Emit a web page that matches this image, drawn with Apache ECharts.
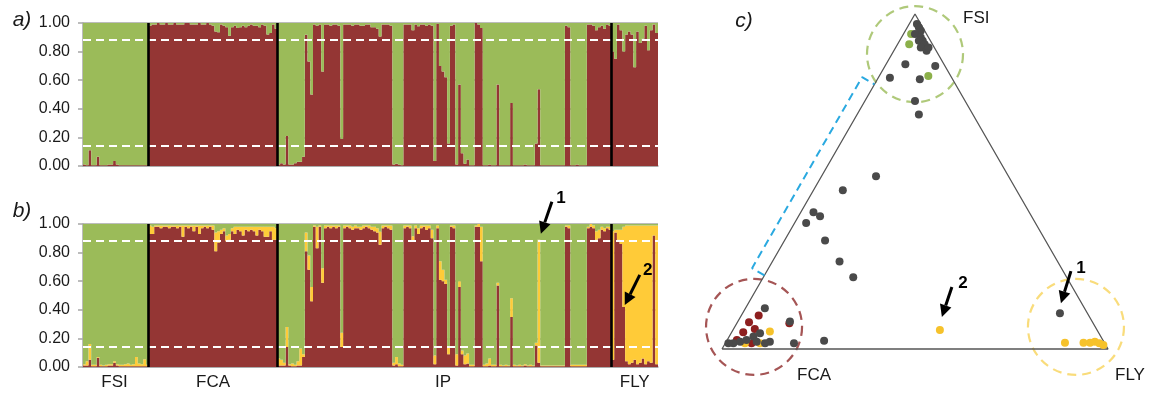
<!DOCTYPE html>
<html><head><meta charset="utf-8">
<script src="https://cdn.jsdelivr.net/npm/echarts@6/dist/echarts.min.js"></script>
<style>html,body{margin:0;padding:0;background:#fff}#c{width:1155px;height:396px}</style>
</head><body><div id="c"></div>
<script>
// ---------------- DATA ----------------
const groups = ['FSI', 'FCA', 'IP', 'FLY'];
const groupSizes = [24, 47, 122, 17];
const yTicks = [0, 0.2, 0.4, 0.6, 0.8, 1.0];
const thresholds = [0.88, 0.14];

// panel a (K=2): proportion of the red (FCA) cluster; green is the rest
const fsiA = [0.01,0.005,0.11,0.005,0.005,0.065,0.005,0.005,0.005,0.01,0.01,0.035,0.01,0.005,0.005,0.005,0.005,0.005,0.005,0.005,0.005,0.005,0.005,0.005];
const fcaA = [0.98,0.99,0.99,1.0,0.99,0.99,1.0,0.99,0.99,1.0,0.99,0.99,0.99,1.0,1.0,0.99,0.99,0.99,1.0,0.99,0.99,1.0,0.99,
              0.98,0.94,0.935,0.99,0.98,0.97,0.91,0.97,0.98,0.965,0.97,0.98,0.97,0.98,0.99,0.98,0.98,0.97,0.99,0.98,0.92,0.93,0.99,0.96];
const ipA = [0.01,0.02,0.01,0.21,0.01,0.01,0.02,0.03,0.03,0.064,
             0.917,0.73,0.50,0.99,0.98,0.99,0.66,0.99,0.99,0.98,
             0.99,0.99,0.98,0.19,0.99,0.99,0.99,0.98,0.99,0.99,
             0.98,0.98,0.99,0.99,0.97,0.97,0.96,0.906,0.99,0.99,
             0.99,0.98,0.01,0.015,0.01,0.005,0.99,0.99,0.99,0.95,
             0.99,0.977,0.99,0.99,0.98,0.99,0.98,0.035,0.995,0.70,
             0.66,0.62,0.157,0.98,0.99,0.01,0.57,0.09,0.016,0.045,
             0.005,0.005,1.0,0.99,0.965,0.005,0.005,0.01,0.005,0.005,
             0.57,0.005,0.005,0.005,0.005,0.44,0.005,0.005,0.005,0.005,
             0.01,0.005,0.005,0.005,0.157,0.536,0.005,0.005,0.005,0.005,
             0.005,0.005,0.005,0.005,0.005,0.98,0.97,0.005,0.005,0.01,
             0.005,0.005,0.005,0.99,0.99,0.98,0.95,0.97,0.98,0.96,
             0.99,0.98];
const flyA = [0.80,0.75,0.99,0.95,0.80,0.92,0.94,0.92,0.69,0.94,0.86,0.89,0.98,0.81,0.95,0.99,0.93];

// panel b (K=3): red (FCA) and yellow (FLY) proportions; green is the rest
const fsiBRed = [0.01,0.01,0.05,0.005,0.005,0.065,0.005,0.005,0.005,0.01,0.01,0.03,0.01,0.005,0.005,0.005,0.005,0.005,0.005,0.005,0.005,0.005,0.005,0.005];
const fsiBYel = [0.01,0.03,0.11,0.01,0.01,0.005,0.01,0.005,0.01,0.01,0.01,0.01,0.01,0.01,0.01,0.015,0.02,0.01,0.015,0.065,0.02,0.015,0.05,0.01];
const fcaBRed = [0.93,0.93,0.98,0.98,0.97,0.98,0.98,0.97,0.98,0.98,0.97,0.98,0.91,0.98,0.97,0.98,0.95,0.98,0.93,0.97,0.98,0.97,0.98,0.96,
                 0.81,0.87,0.93,0.95,0.88,0.89,0.95,0.93,0.96,0.95,0.92,0.96,0.95,0.96,0.95,0.92,0.96,0.95,0.91,0.91,0.95,0.89,0.89];
const fcaBYel = [0.06,0.05,0.01,0.01,0.02,0.01,0.01,0.02,0.01,0.01,0.02,0.01,0.08,0.01,0.02,0.01,0.04,0.01,0.06,0.02,0.01,0.02,0.01,0.03,
                 0.13,0.08,0.03,0.02,0.04,0.04,0.02,0.05,0.02,0.03,0.06,0.02,0.03,0.02,0.03,0.06,0.02,0.03,0.07,0.07,0.03,0.09,0.08];
const ipBRed = [0.01,0.01,0.01,0.14,0.01,0.005,0.005,0.01,0.01,0.07,
                0.81,0.68,0.46,0.98,0.83,0.98,0.59,0.97,0.98,0.97,
                0.98,0.97,0.98,0.14,0.97,0.98,0.97,0.96,0.97,0.97,
                0.96,0.97,0.98,0.97,0.96,0.95,0.94,0.855,0.97,0.98,
                0.97,0.96,0.01,0.02,0.005,0.005,0.97,0.98,0.97,0.88,
                0.97,0.93,0.97,0.98,0.96,0.97,0.90,0.02,0.97,0.61,
                0.60,0.58,0.09,0.98,0.97,0.01,0.56,0.09,0.02,0.025,
                0.005,0.005,0.98,0.98,0.74,0.005,0.005,0.01,0.005,0.005,
                0.57,0.005,0.005,0.005,0.005,0.35,0.005,0.005,0.005,0.005,
                0.01,0.005,0.005,0.005,0.15,0.03,0.005,0.005,0.005,0.005,
                0.005,0.005,0.005,0.005,0.005,0.98,0.97,0.005,0.005,0.005,
                0.005,0.005,0.005,0.97,0.98,0.97,0.89,0.90,0.96,0.95,
                0.97,0.96];
const ipBYel = [0.05,0.04,0.02,0.14,0.01,0.02,0.01,0.03,0.12,0.02,
                0.13,0.10,0.10,0.01,0.15,0.01,0.10,0.02,0.01,0.02,
                0.01,0.02,0.01,0.10,0.02,0.01,0.02,0.02,0.02,0.01,
                0.02,0.02,0.01,0.02,0.02,0.03,0.03,0.09,0.02,0.01,
                0.02,0.03,0.02,0.05,0.02,0.01,0.02,0.01,0.02,0.035,
                0.02,0.04,0.02,0.01,0.03,0.02,0.06,0.06,0.02,0.13,
                0.08,0.03,0.05,0.01,0.02,0.08,0.04,0.025,0.06,0.07,
                0.01,0.01,0.01,0.02,0.24,0.01,0.02,0.05,0.01,0.01,
                0.02,0.01,0.005,0.01,0.005,0.13,0.01,0.005,0.01,0.005,
                0.01,0.005,0.01,0.005,0.02,0.86,0.005,0.005,0.005,0.005,
                0.005,0.005,0.005,0.005,0.005,0.01,0.02,0.01,0.01,0.01,
                0.01,0.01,0.01,0.01,0.02,0.02,0.06,0.06,0.02,0.02,
                0.01,0.02];
const flyBRed = [0.05,0.94,0.89,0.86,0.42,0.04,0.02,0.03,0.05,0.02,0.03,0.06,0.02,0.04,0.03,0.92,0.02];
const flyBYel = [0.90,0.02,0.07,0.10,0.56,0.95,0.97,0.96,0.94,0.97,0.96,0.93,0.97,0.95,0.96,0.07,0.97];

// panel c: ternary memberships [FSI, FCA, FLY]
const ternGray = [[0.97,0.01,0.02],[0.96,0.01,0.03],[0.95,0.01,0.04],[0.94,0.03,0.03],[0.93,0.02,0.05],[0.92,0.02,0.06],
  [0.92,0.03,0.05],[0.91,0.02,0.07],[0.90,0.035,0.065],[0.89,0.025,0.085],[0.90,0.015,0.085],[0.85,0.10,0.05],
  [0.845,0.025,0.13],[0.81,0.16,0.03],[0.805,0.085,0.11],[0.74,0.13,0.13],[0.70,0.14,0.16],
  [0.516,0.343,0.141],[0.474,0.45,0.076],[0.408,0.559,0.033],[0.396,0.548,0.056],[0.376,0.594,0.03],
  [0.324,0.571,0.105],[0.261,0.565,0.174],[0.214,0.553,0.233],[0.025,0.723,0.252],
  [0.122,0.828,0.05],[0.082,0.783,0.135],[0.017,0.962,0.021],[0.022,0.942,0.036],[0.027,0.923,0.05],
  [0.037,0.90,0.063],[0.047,0.878,0.075],[0.022,0.865,0.113],[0.017,0.805,0.178],[0.022,0.899,0.079],
  [0.017,0.975,0.008],[0.017,0.88,0.103],[0.107,0.071,0.822]];
const ternGreen = [[0.94,0.04,0.02],[0.91,0.06,0.03],[0.815,0.058,0.127]];
const ternRed = [[0.10,0.855,0.045],[0.08,0.89,0.03],[0.05,0.92,0.03],[0.06,0.885,0.055],[0.077,0.787,0.136],
  [0.017,0.915,0.068],[0.027,0.948,0.025]];
const ternYellow = [[0.052,0.85,0.098],[0.017,0.932,0.051],[0.017,0.893,0.09],[0.057,0.407,0.536],
  [0.019,0.102,0.879],[0.019,0.054,0.927],[0.019,0.037,0.944],[0.022,0.023,0.955],[0.017,0.014,0.969],[0.012,0.006,0.982]];
const ternVertices = [[0,1,0],[0,0,1],[1,0,0]];           // FCA, FLY, FSI corners
const ternVertexLabels = ['FCA', 'FLY', 'FSI'];
const zoneCentres = [[0.88,0.06,0.06],[0.066,0.884,0.05],[0.066,0.05,0.884]];
const bracketRange = [0.22, 0.79];                          // FSI share along FCA–FSI edge

// ---------------- BUILD ----------------
const RED = '#943634', GREEN = '#9bbb59', YEL = '#ffcb38';
const FONT = "'Liberation Sans', Arial, Helvetica, sans-serif";
const SQ3 = Math.sqrt(3);
const redA = [].concat(fsiA, fcaA, ipA, flyA);
const greenA = redA.map(r => +(1 - r).toFixed(3));
const redB = [].concat(fsiBRed, fcaBRed, ipBRed, flyBRed);
const yelB = [].concat(fsiBYel, fcaBYel, ipBYel, flyBYel);
const greenB = redB.map((r, i) => Math.max(0, +(1 - r - yelB[i]).toFixed(3)));
const N = redA.length;
const ids = redA.map((_, i) => 'ind' + (i + 1));
const bounds = []; const centreIdx = {};
let acc = 0;
groupSizes.forEach((n, k) => { centreIdx[acc + Math.floor((n - 1) / 2)] = groups[k]; acc += n; if (k < groupSizes.length - 1) bounds.push(acc); });
const tern = c => [c[2] + c[0] / 2, c[0] * SQ3 / 2];

function bar(name, data, color, stack, ax) {
  return { type: 'bar', name, data, stack, xAxisIndex: ax, yAxisIndex: ax, barCategoryGap: '0%', barGap: '0%',
    large: true, largeThreshold: 50, itemStyle: { color }, silent: true };
}
function guides(xi, yi) {
  return { type: 'scatter', xAxisIndex: xi, yAxisIndex: yi, data: [[0, 0]], symbolSize: 0, silent: true, z: 5,
    markLine: { silent: true, symbol: ['none', 'none'], label: { show: false }, animation: false,
      data: thresholds.map(t => ({ yAxis: t, lineStyle: { color: '#fff', width: 2, type: [8, 5] } }))
        .concat(bounds.map(b => ({ xAxis: b, lineStyle: { color: '#000', width: 2.6, type: 'solid' } }))) } };
}
const yAxisBar = gi => ({ type: 'value', gridIndex: gi, min: yTicks[0], max: yTicks[yTicks.length - 1], interval: yTicks[1] - yTicks[0],
  axisLine: { show: true, lineStyle: { color: '#a6a6a6', width: 1.5 } },
  axisTick: { show: true, length: 5, lineStyle: { color: '#a6a6a6', width: 1.5 } },
  axisLabel: { formatter: v => v.toFixed(2), fontSize: 16, color: '#1a1a1a', fontFamily: FONT, margin: 13 },
  splitLine: { show: true, lineStyle: { color: '#a6a6a6', width: 1.5 } } });
const xAxisCat = (gi, showLab) => ({ type: 'category', gridIndex: gi, data: ids, boundaryGap: true,
  axisLine: { show: true, lineStyle: { color: '#a6a6a6', width: 1.5 } }, axisTick: { show: false },
  axisLabel: { show: showLab, interval: 0, formatter: (v, i) => centreIdx[i] || '', fontSize: 17, color: '#1a1a1a', fontFamily: FONT, margin: 7 },
  splitLine: { show: false } });
const hiddenVal = (gi, min, max) => ({ type: 'value', gridIndex: gi, min, max, show: false, splitLine: { show: false } });

const chart = echarts.init(document.getElementById('c'));
const nrm = [-SQ3 / 2 * 0.037, 0.5 * 0.037];
const e0 = tern([bracketRange[0], 1 - bracketRange[0], 0]), e1 = tern([bracketRange[1], 1 - bracketRange[1], 0]);
const bracket = [e0, [e0[0] + nrm[0], e0[1] + nrm[1]], [e1[0] + nrm[0], e1[1] + nrm[1]], e1];
const zoneColors = ['#9bbb59', '#8e2b2b', '#f8d35a'];
const pts = (data, color, z) => ({ type: 'scatter', xAxisIndex: 4, yAxisIndex: 2, data: data.map(tern), symbolSize: 8,
  itemStyle: { color, opacity: 1 }, silent: true, clip: false, z });

chart.setOption({
  animation: false,
  grid: [
    { left: 83, top: 23, width: 575, height: 143 },
    { left: 83, top: 224, width: 575, height: 143 },
    { left: 722, top: 14, width: 386, height: 335 }
  ],
  xAxis: [xAxisCat(0, false), xAxisCat(1, true), hiddenVal(0, 0, N), hiddenVal(1, 0, N), hiddenVal(2, 0, 1)],
  yAxis: [yAxisBar(0), yAxisBar(1), hiddenVal(2, 0, SQ3 / 2)],
  series: [
    bar('a FCA', redA, RED, 'a', 0),
    bar('a FSI', greenA, GREEN, 'a', 0),
    bar('b FCA', redB, RED, 'b', 1),
    bar('b FLY', yelB, YEL, 'b', 1),
    bar('b FSI', greenB, GREEN, 'b', 1),
    guides(2, 0),
    guides(3, 1),
    { type: 'scatter', xAxisIndex: 4, yAxisIndex: 2, silent: true, clip: false, z: 1, symbolSize: 96,
      data: zoneCentres.map((c, i) => ({ value: tern(c), itemStyle: { color: 'rgba(0,0,0,0)', borderColor: zoneColors[i], borderWidth: 2.2, borderType: [9, 6] } })) },
    { type: 'line', xAxisIndex: 4, yAxisIndex: 2, data: ternVertices.concat([ternVertices[0]]).map(tern), symbol: 'none', clip: false, silent: true,
      lineStyle: { color: '#555', width: 1.3 }, z: 2 },
    { type: 'line', xAxisIndex: 4, yAxisIndex: 2, data: bracket, symbol: 'none', clip: false, silent: true,
      lineStyle: { color: '#2aa9e0', width: 2, type: [8, 5] }, z: 2 },
    pts(ternRed, '#8e1f1f', 3),
    pts(ternYellow, '#f6c22b', 3),
    pts(ternGreen, '#8cb04a', 3),
    pts(ternGray, '#4a4a4a', 4)
  ]
});

// ---------- annotations (positions derived from data through the axes) ----------
function arrow(tip, vec, label, lab) {
  const tail = [tip[0] + vec[0], tip[1] + vec[1]];
  const L = Math.hypot(vec[0], vec[1]); const ux = -vec[0] / L, uy = -vec[1] / L;
  const hl = 12, hw = 6; const bx = tip[0] - ux * hl, by = tip[1] - uy * hl; const px = -uy, py = ux;
  return [
    { type: 'line', shape: { x1: tail[0], y1: tail[1], x2: bx, y2: by }, style: { stroke: '#000', lineWidth: 3 }, z: 100 },
    { type: 'polygon', shape: { points: [[tip[0], tip[1]], [bx + px * hw, by + py * hw], [bx - px * hw, by - py * hw]] }, style: { fill: '#000' }, z: 100 },
    { type: 'text', x: tail[0] + lab[0], y: tail[1] + lab[1], style: { text: label, font: 'bold 17px ' + FONT, fill: '#000', align: 'center', verticalAlign: 'middle', textAlign: 'center', textVerticalAlign: 'middle' }, z: 100 }
  ];
}
const ipStart = groupSizes[0] + groupSizes[1];
const flyStart = ipStart + groupSizes[2];
const i1 = ipStart + 95, i2 = flyStart + 4;
const pB1 = chart.convertToPixel({ xAxisIndex: 3, yAxisIndex: 1 }, [i1 + 0.5, redB[i1] + yelB[i1]]);
const pB2 = chart.convertToPixel({ xAxisIndex: 3, yAxisIndex: 1 }, [i2 + 0.5, redB[i2]]);
const pT1 = chart.convertToPixel({ xAxisIndex: 4, yAxisIndex: 2 }, tern(ternGray[ternGray.length - 1]));
const pT2 = chart.convertToPixel({ xAxisIndex: 4, yAxisIndex: 2 }, tern(ternYellow[3]));
const vx = ternVertices.map(v => chart.convertToPixel({ xAxisIndex: 4, yAxisIndex: 2 }, tern(v)));

const txt = (t, x, y, font, align) => ({ type: 'text', x, y, style: { text: t, font, fill: '#1a1a1a', align: align || 'center', verticalAlign: 'middle', textAlign: align || 'center', textVerticalAlign: 'middle' }, z: 100 });
chart.setOption({
  graphic: [
    txt('a)', 22, 20, 'italic 21px ' + FONT),
    txt('b)', 22, 211, 'italic 21px ' + FONT),
    txt('c)', 744, 21, 'italic 21px ' + FONT),
    txt(ternVertexLabels[0], vx[0][0] + 75, vx[0][1] + 26, '17px ' + FONT, 'left'),
    txt(ternVertexLabels[1], vx[1][0] + 7, vx[1][1] + 26, '17px ' + FONT, 'left'),
    txt(ternVertexLabels[2], vx[2][0] + 48, vx[2][1] + 4, '17px ' + FONT, 'left')
  ].concat(
    arrow([pB1[0] + 2, pB1[1] - 6], [11, -32], '1', [9, -3]),
    arrow([pB2[0] + 1, pB2[1] - 2], [15, -30], '2', [8, -5]),
    arrow([pT1[0] + 1, pT1[1] - 10], [10, -32], '1', [10, -3]),
    arrow([pT2[0] + 2, pT2[1] - 13], [10, -30], '2', [11, -4])
  )
});
</script></body></html>
